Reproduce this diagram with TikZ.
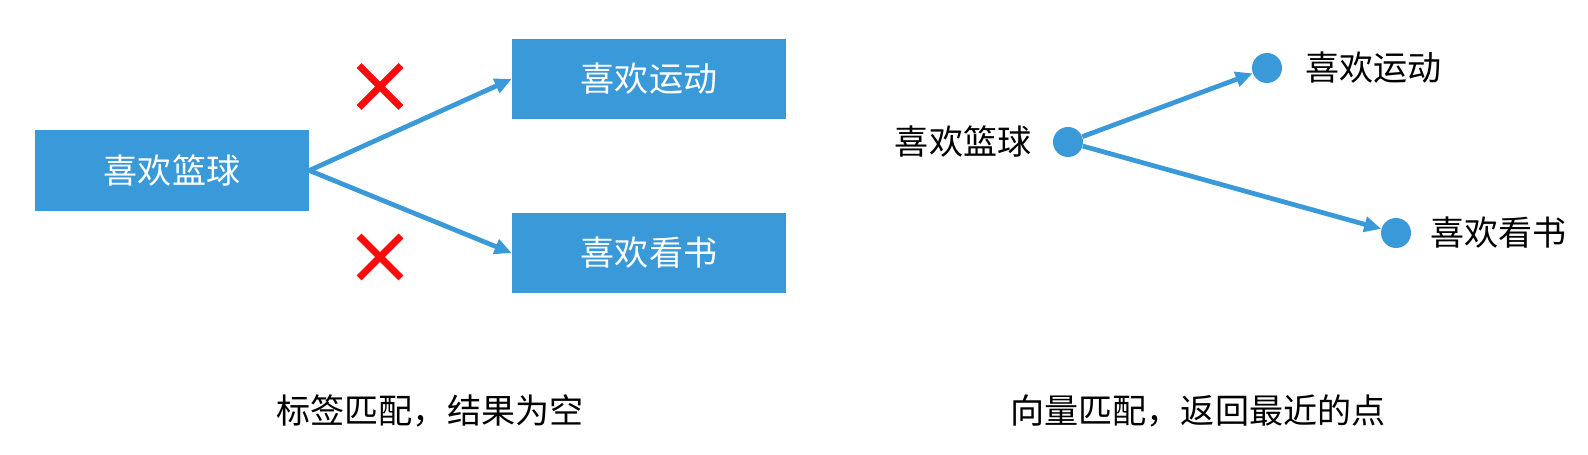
\documentclass[tikz,border=0pt]{standalone}
\usepackage{fontspec}
\setmainfont{Noto Sans CJK SC}
\usetikzlibrary{arrows.meta, positioning, shapes.misc}
\definecolor{tagblue}{RGB}{58,153,216}
\definecolor{crossred}{RGB}{250,12,12}

\begin{document}
\begin{tikzpicture}[x=0.02cm, y=-0.02cm,
  cjk/.style={font=\fontsize{19.4}{23}\selectfont, inner sep=0pt},
  tagbox/.style={cjk, fill=tagblue, text=white, minimum width=5.48cm, minimum height=1.62cm},
  vecdot/.style={circle, fill=tagblue, minimum size=0.6cm, inner sep=0pt},
  nomatch/.style={cross out, draw=crossred, line width=0.14cm, minimum size=0.7cm, inner sep=0pt},
  link/.style={tagblue, line width=0.095cm, -{Triangle[length=0.34cm, width=0.3cm]}}]
  \useasboundingbox (0,0) rectangle (1588,455);

  % Tag matching
  \node[tagbox] (basketball) at (172,170.5) {喜欢篮球};
  \node[tagbox] (sports) at (649,79) {喜欢运动};
  \node[tagbox] (reading) at (649,253) {喜欢看书};
  \draw[link] (basketball.east) -- (sports.west);
  \draw[link] (basketball.east) -- (reading.west);
  \node[nomatch] (crossup) at (380,86.5) {};
  \node[nomatch] (crossdown) at (380,257) {};
  \node[cjk] (tagcaption) at (430,411) {标签匹配，结果为空};

  % Vector matching
  \node[vecdot] (vbasketball) at (1068,142) {};
  \node[vecdot] (vsports) at (1267,68) {};
  \node[vecdot] (vreading) at (1396,233) {};
  \node[cjk, left=0.42cm of vbasketball] (lbasketball) {喜欢篮球};
  \node[cjk, right=0.46cm of vsports] (lsports) {喜欢运动};
  \node[cjk, right=0.38cm of vreading] (lreading) {喜欢看书};
  \draw[link] (vbasketball) -- (vsports);
  \draw[link] (vbasketball) -- (vreading);
  \node[cjk] (veccaption) at (1198,411) {向量匹配，返回最近的点};
\end{tikzpicture}
\end{document}
